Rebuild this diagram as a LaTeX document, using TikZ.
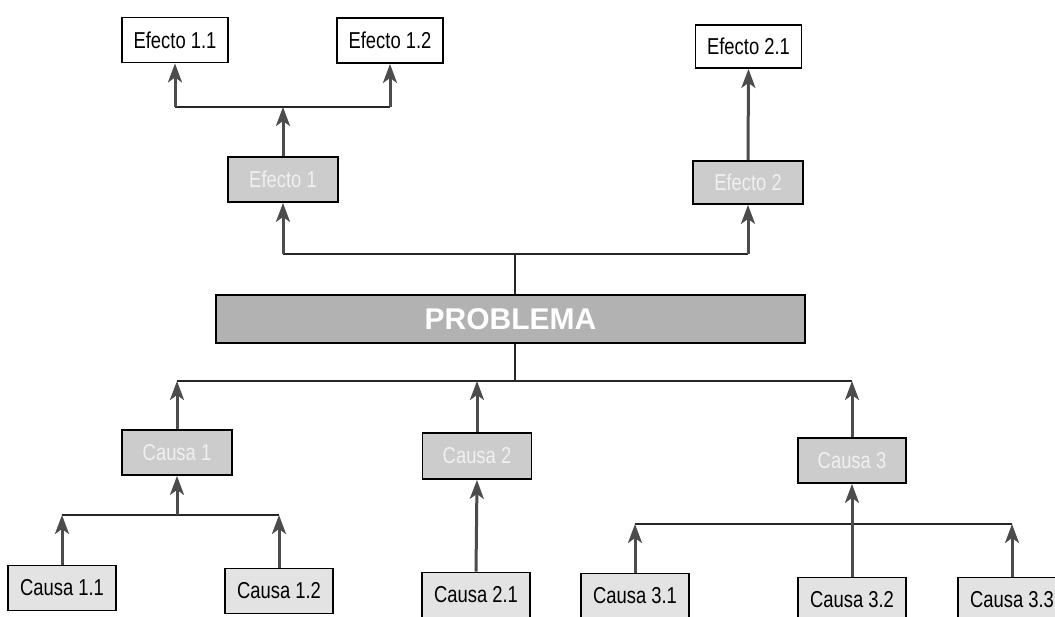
\documentclass[tikz,border=0pt]{standalone}
\usepackage{fontspec}
\setmainfont{Liberation Sans}
\newfontfamily\narfont[FakeStretch=0.8]{Liberation Sans}
\usetikzlibrary{arrows.meta}
\begin{document}
\begin{tikzpicture}[x=1pt,y=-1pt,
  box/.style={draw=black, line width=1.8pt, inner sep=0pt, font=\narfont\fontsize{23}{26}\selectfont},
  efbox/.style={box, fill=white, minimum width=106pt, minimum height=45pt},
  midbox/.style={box, fill=gray!40, text=gray!12, minimum width=110pt, minimum height=45pt},
  leafbox/.style={box, fill=gray!22, minimum width=108pt, minimum height=45pt},
  probbox/.style={draw=black, line width=1.8pt, fill=gray!60, text=white, inner sep=0pt,
    minimum width=589pt, minimum height=48pt, font=\bfseries\fontsize{30}{34}\selectfont},
  conn/.style={line width=1.4pt, black!85},
  arr/.style={line width=3pt, black!70, -{Stealth[length=19pt,width=14pt,inset=5pt]}}]
\useasboundingbox (0,0) rectangle (1055,617);
\begin{scope}
\clip (0,0) rectangle (1055,617);
% top effects
\node[efbox] (E11) at (175,40) {Efecto 1.1};
\node[efbox] (E12) at (390,40.5) {Efecto 1.2};
\node[efbox, minimum height=43pt] (E21) at (748.5,46.5) {Efecto 2.1};
% middle effects
\node[midbox] (Ef1) at (283,179.5) {Efecto 1};
\node[midbox, minimum height=43pt] (Ef2) at (748,182.5) {Efecto 2};
% problem
\node[probbox] (P) at (510.5,319) {PROBLEMA};
% middle causes
\node[midbox] (C1) at (177,452.5) {Causa 1};
\node[midbox, minimum width=109pt, minimum height=46pt] (C2) at (477,456) {Causa 2};
\node[midbox, minimum width=108pt] (C3) at (852,460.5) {Causa 3};
% leaf causes
\node[leafbox] (C11) at (62,588) {Causa 1.1};
\node[leafbox] (C12) at (279,591) {Causa 1.2};
\node[leafbox] (C21) at (476,595) {Causa 2.1};
\node[leafbox] (C31) at (635,596) {Causa 3.1};
\node[leafbox] (C32) at (852,600) {Causa 3.2};
\node[leafbox] (C33) at (1012,600) {Causa 3.3};
% junctions
\coordinate (j1) at (283,107);
\coordinate (j0) at (515,254);
\coordinate (j2) at (515,381);
\coordinate (j3) at (177,515);
\coordinate (j4) at (852,524);
% effect tree
\draw[arr] (Ef1.north) -- (j1);
\draw[conn] (E11.south |- j1) -- (E12.south |- j1);
\draw[arr] (E11.south |- j1) -- (E11.south);
\draw[arr] (E12.south |- j1) -- (E12.south);
\draw[arr] (Ef2.north) -- (E21.south);
\draw[conn] (P.north -| j0) -- (j0);
\draw[conn] (Ef1.south |- j0) -- (Ef2.south |- j0);
\draw[arr] (Ef1.south |- j0) -- (Ef1.south);
\draw[arr] (Ef2.south |- j0) -- (Ef2.south);
% cause tree
\draw[conn] (P.south -| j2) -- (j2);
\draw[conn] (C1.north |- j2) -- (C3.north |- j2);
\draw[arr] (C1.north) -- (C1.north |- j2);
\draw[arr] (C2.north) -- (C2.north |- j2);
\draw[arr] (C3.north) -- (C3.north |- j2);
\draw[conn] (C11.north |- j3) -- (C12.north |- j3);
\draw[arr] (C11.north) -- (C11.north |- j3);
\draw[arr] (C12.north) -- (C12.north |- j3);
\draw[arr] (j3) -- (C1.south);
\draw[arr] (C21.north) -- (C2.south);
\draw[conn] (C31.north |- j4) -- (C33.north |- j4);
\draw[arr] (C31.north) -- (C31.north |- j4);
\draw[arr] (C33.north) -- (C33.north |- j4);
\draw[arr] (C32.north) -- (C3.south);
\end{scope}
\end{tikzpicture}
\end{document}
